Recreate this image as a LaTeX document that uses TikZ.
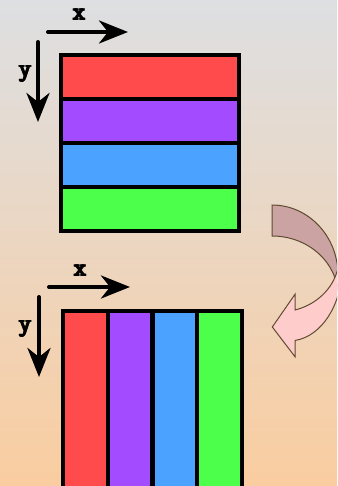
\documentclass[tikz,border=0pt]{standalone}
\usetikzlibrary{arrows.meta}
\definecolor{cred}{RGB}{255,75,75}
\definecolor{cpurple}{RGB}{163,75,255}
\definecolor{cblue}{RGB}{75,163,255}
\definecolor{cgreen}{RGB}{75,255,75}
\definecolor{darkA}{RGB}{204,163,163}
\definecolor{pinkA}{RGB}{255,204,204}
\definecolor{arrowline}{RGB}{94,75,48}
\definecolor{bgtop}{RGB}{221,223,226}
\definecolor{bgmid}{RGB}{240,216,196}
\definecolor{bgbot}{RGB}{250,205,160}
\newcommand\thk[1]{\rlap{#1}\rlap{\raisebox{0.9pt}{#1}}\kern0.7pt\rlap{\raisebox{0.45pt}{#1}}\kern0.7pt\rlap{\raisebox{0.9pt}{#1}}#1}
\begin{document}
\begin{tikzpicture}[x=1pt,y=-1pt,
  stripe/.style={draw=black, line width=4pt, rectangle, inner sep=0pt, outer sep=0pt},
  hstripe/.style={stripe, minimum width=178pt, minimum height=44pt},
  vstripe/.style={stripe, minimum width=44.75pt, minimum height=179pt},
  axis/.style={line width=4pt, line cap=round, -{Stealth[length=29pt,width=23pt,inset=9pt]}},
  axlabel/.style={font=\ttfamily\fontsize{25}{25}\selectfont, inner sep=0pt},
  ribbon/.style={draw=arrowline, line width=1pt, line join=miter}]
\useasboundingbox (0,0) rectangle (337,486);
\clip (0,0) rectangle (337,486);
\shade[top color=bgtop, middle color=bgmid, bottom color=bgbot] (0,0) rectangle (337,486);

% top block (horizontal stripes)
\node[hstripe, fill=cred]    (t1) at (150,77)  {};
\node[hstripe, fill=cpurple] (t2) at (150,121) {};
\node[hstripe, fill=cblue]   (t3) at (150,165) {};
\node[hstripe, fill=cgreen]  (t4) at (150,209) {};

% top axes
\coordinate (txa) at (48,32);
\coordinate (txb) at (128,32);
\coordinate (tya) at (38,42);
\coordinate (tyb) at (38,122);
\draw[axis] (txa) -- (txb);
\draw[axis] (tya) -- (tyb);
\node[axlabel] (tlx) at (79,15) {\thk{x}};
\node[axlabel] (tly) at (25,74) {\thk{y}};

% bottom block (vertical stripes)
\node[vstripe, fill=cred]    (b1) at (85.4,400)  {};
\node[vstripe, fill=cpurple] (b2) at (130.1,400) {};
\node[vstripe, fill=cblue]   (b3) at (174.9,400) {};
\node[vstripe, fill=cgreen]  (b4) at (219.6,400) {};

% bottom axes
\coordinate (bxa) at (49,287);
\coordinate (bxb) at (130,287);
\coordinate (bya) at (39,297);
\coordinate (byb) at (39,377);
\draw[axis] (bxa) -- (bxb);
\draw[axis] (bya) -- (byb);
\node[axlabel] (blx) at (80,271) {\thk{x}};
\node[axlabel] (bly) at (25,329) {\thk{y}};

% curved arrow: back part
\draw[ribbon, fill=darkA] (272,205)
  arc[start angle=-90, end angle=0, x radius=66, y radius=70]
  -- (338,296)
  arc[start angle=0, end angle=-90, x radius=66, y radius=60]
  -- cycle;
% curved arrow: front part
\draw[ribbon, fill=pinkA] (338,268)
  .. controls (333,290) and (315,305) .. (295,310)
  -- (295,294.3) -- (272.3,327) -- (295,356.7) -- (295,340.5)
  .. controls (322,336) and (341,305) .. (342,270)
  -- cycle;
\end{tikzpicture}
\end{document}
